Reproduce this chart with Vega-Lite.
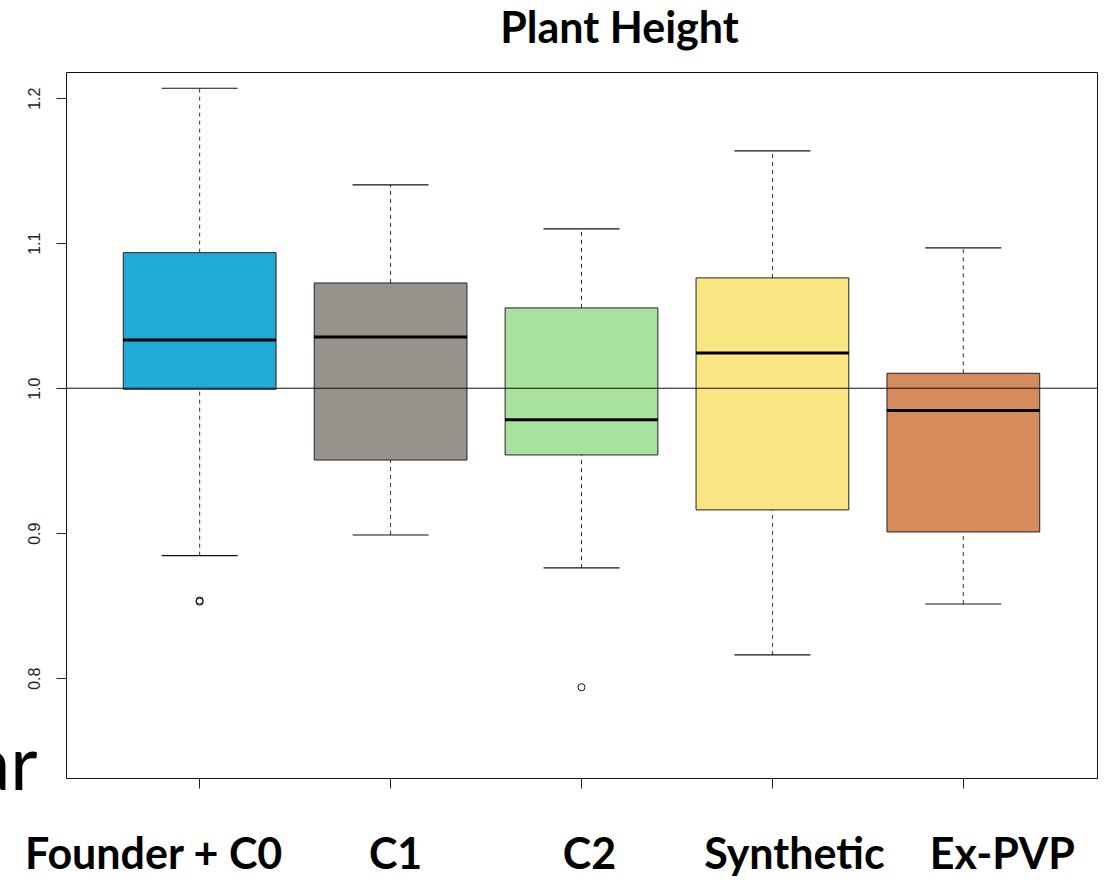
{
  "$schema": "https://vega.github.io/schema/vega-lite/v6.json",
  "width": 1031,
  "height": 706,
  "autosize": {"type": "none"},
  "padding": {"left": 66, "top": 72, "right": 12, "bottom": 104},
  "background": "white",
  "config": {
    "view": {"stroke": "#111", "strokeWidth": 1},
    "axis": {"grid": false, "domain": false}
  },
  "title": {
    "text": "Plant Height",
    "font": "Lato",
    "fontSize": 43,
    "fontWeight": "bold",
    "color": "black",
    "anchor": "middle",
    "frame": "group",
    "offset": 20,
    "dx": 38
  },
  "datasets": {
    "stats": [
      {"group": "Founder + C0", "lower": 0.8846, "q1": 0.9993, "median": 1.0333, "q3": 1.0935, "upper": 1.2069},
      {"group": "C1", "lower": 0.8988, "q1": 0.9505, "median": 1.0354, "q3": 1.0726, "upper": 1.1402},
      {"group": "C2", "lower": 0.8761, "q1": 0.9540, "median": 0.9782, "q3": 1.0554, "upper": 1.1099},
      {"group": "Synthetic", "lower": 0.8161, "q1": 0.9161, "median": 1.0243, "q3": 1.0761, "upper": 1.1637},
      {"group": "Ex-PVP", "lower": 0.8512, "q1": 0.9009, "median": 0.9846, "q3": 1.0103, "upper": 1.0968}
    ],
    "outliers": [
      {"group": "Founder + C0", "value": 0.8528},
      {"group": "Founder + C0", "value": 0.8536},
      {"group": "C2", "value": 0.7938}
    ],
    "ref": [{"value": 1.0}]
  },
  "data": {"name": "stats"},
  "layer": [
    {
      "mark": {"type": "rule", "color": "#333", "strokeWidth": 1, "strokeDash": [4, 4]},
      "encoding": {
        "x": {"field": "group", "type": "nominal", "sort": ["Founder + C0", "C1", "C2", "Synthetic", "Ex-PVP"], "scale": {"paddingInner": 0, "paddingOuter": 0.2},
          "axis": {
            "title": null,
            "labelAngle": 0,
            "labelFont": "Lato",
            "labelFontWeight": "bold",
            "labelFontSize": 43,
            "labelColor": "black",
            "labelBaseline": "alphabetic",
            "labelPadding": 80,
            "labelLimit": 500,
            "labelOverlap": false,
            "tickSize": 10,
            "tickColor": "#222",
            "labelOffset": {"condition": [
              {"test": "datum.value === 'Founder + C0'", "value": -46},
              {"test": "datum.value === 'C1'", "value": 5},
              {"test": "datum.value === 'C2'", "value": 8},
              {"test": "datum.value === 'Synthetic'", "value": 22}
            ], "value": 39}
          }
        },
        "y": {"field": "lower", "type": "quantitative", "scale": {"domain": [0.7312, 1.2181], "nice": false, "zero": false},
          "axis": {
            "values": [0.8, 0.9, 1.0, 1.1, 1.2],
            "format": ".1f",
            "labelAngle": 270,
            "labelAlign": "center",
            "labelBaseline": "alphabetic",
            "labelPadding": 17,
            "labelFont": "Liberation Sans",
            "labelFontSize": 16,
            "labelColor": "#222",
            "tickSize": 10,
            "tickColor": "#222",
            "title": "ar",
            "titleAngle": 0,
            "titleAlign": "right",
            "titleBaseline": "alphabetic",
            "titleX": -29,
            "titleY": 717,
            "titleFont": "Lato",
            "titleFontSize": 75,
            "titleFontWeight": "normal",
            "titleColor": "black"
          }
        },
        "y2": {"field": "q1"}
      }
    },
    {
      "mark": {"type": "rule", "color": "#333", "strokeWidth": 1, "strokeDash": [4, 4]},
      "encoding": {
        "x": {"field": "group", "type": "nominal", "sort": ["Founder + C0", "C1", "C2", "Synthetic", "Ex-PVP"]},
        "y": {"field": "q3", "type": "quantitative"},
        "y2": {"field": "upper"}
      }
    },
    {
      "mark": {"type": "tick", "color": "#111", "opacity": 1, "size": 76, "thickness": 1.2},
      "encoding": {
        "x": {"field": "group", "type": "nominal", "sort": ["Founder + C0", "C1", "C2", "Synthetic", "Ex-PVP"]},
        "y": {"field": "lower", "type": "quantitative"}
      }
    },
    {
      "mark": {"type": "tick", "color": "#111", "opacity": 1, "size": 76, "thickness": 1.2},
      "encoding": {
        "x": {"field": "group", "type": "nominal", "sort": ["Founder + C0", "C1", "C2", "Synthetic", "Ex-PVP"]},
        "y": {"field": "upper", "type": "quantitative"}
      }
    },
    {
      "mark": {"type": "bar", "width": {"band": 0.8}, "stroke": "#222", "strokeWidth": 1, "opacity": 1},
      "encoding": {
        "x": {"field": "group", "type": "nominal", "sort": ["Founder + C0", "C1", "C2", "Synthetic", "Ex-PVP"]},
        "y": {"field": "q1", "type": "quantitative"},
        "y2": {"field": "q3"},
        "color": {"field": "group", "type": "nominal", "legend": null,
          "scale": {"domain": ["Founder + C0", "C1", "C2", "Synthetic", "Ex-PVP"], "range": ["#1EABD6", "#97928B", "#A8E29E", "#FAE784", "#D68B5C"]}}
      }
    },
    {
      "mark": {"type": "tick", "color": "black", "opacity": 1, "size": 153, "thickness": 3},
      "encoding": {
        "x": {"field": "group", "type": "nominal", "sort": ["Founder + C0", "C1", "C2", "Synthetic", "Ex-PVP"]},
        "y": {"field": "median", "type": "quantitative"}
      }
    },
    {
      "data": {"name": "outliers"},
      "mark": {"type": "point", "shape": "circle", "filled": false, "stroke": "#111", "opacity": 1, "strokeWidth": 1, "size": 50},
      "encoding": {
        "x": {"field": "group", "type": "nominal", "sort": ["Founder + C0", "C1", "C2", "Synthetic", "Ex-PVP"]},
        "y": {"field": "value", "type": "quantitative"}
      }
    },
    {
      "data": {"name": "ref"},
      "mark": {"type": "rule", "color": "#111", "strokeWidth": 1},
      "encoding": {
        "y": {"field": "value", "type": "quantitative"}
      }
    }
  ]
}
